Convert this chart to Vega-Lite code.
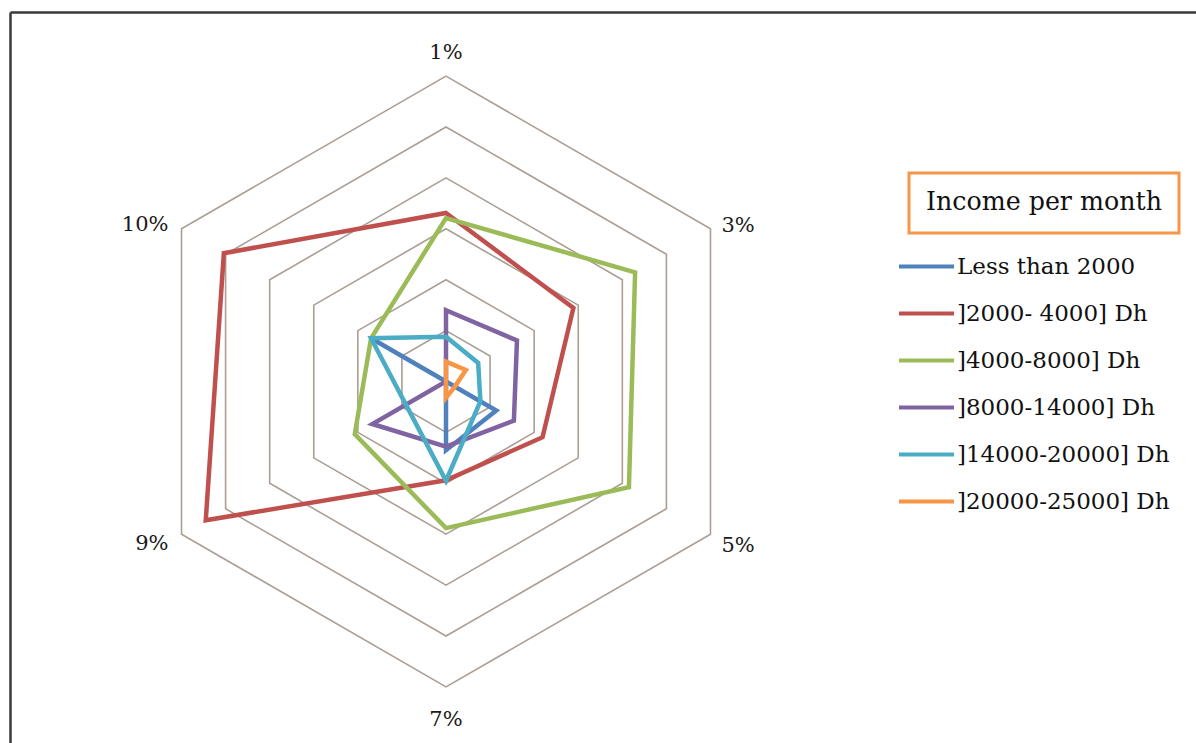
{
  "$schema": "https://vega.github.io/schema/vega-lite/v6.json",
  "width": 1186,
  "height": 731,
  "autosize": {"type": "none"},
  "padding": {"left": 10, "top": 12, "right": 0, "bottom": 0},
  "background": "white",
  "config": {"view": {"stroke": null}, "font": "DejaVu Serif", "legend": {"strokeWidth": 3}},
  "datasets": {
    "series": [
      {"series": "Less than 2000", "axis": "1%", "value": 0},
      {"series": "Less than 2000", "axis": "3%", "value": 0},
      {"series": "Less than 2000", "axis": "5%", "value": 1.14},
      {"series": "Less than 2000", "axis": "7%", "value": 1.35},
      {"series": "Less than 2000", "axis": "9%", "value": 0},
      {"series": "Less than 2000", "axis": "10%", "value": 1.7},
      {"series": "]2000- 4000] Dh", "axis": "1%", "value": 3.31},
      {"series": "]2000- 4000] Dh", "axis": "3%", "value": 2.89},
      {"series": "]2000- 4000] Dh", "axis": "5%", "value": 2.19},
      {"series": "]2000- 4000] Dh", "axis": "7%", "value": 1.94},
      {"series": "]2000- 4000] Dh", "axis": "9%", "value": 5.45},
      {"series": "]2000- 4000] Dh", "axis": "10%", "value": 5.04},
      {"series": "]4000-8000] Dh", "axis": "1%", "value": 3.21},
      {"series": "]4000-8000] Dh", "axis": "3%", "value": 4.29},
      {"series": "]4000-8000] Dh", "axis": "5%", "value": 4.15},
      {"series": "]4000-8000] Dh", "axis": "7%", "value": 2.88},
      {"series": "]4000-8000] Dh", "axis": "9%", "value": 2.07},
      {"series": "]4000-8000] Dh", "axis": "10%", "value": 1.7},
      {"series": "]8000-14000] Dh", "axis": "1%", "value": 1.4},
      {"series": "]8000-14000] Dh", "axis": "3%", "value": 1.61},
      {"series": "]8000-14000] Dh", "axis": "5%", "value": 1.54},
      {"series": "]8000-14000] Dh", "axis": "7%", "value": 1.28},
      {"series": "]8000-14000] Dh", "axis": "9%", "value": 1.67},
      {"series": "]8000-14000] Dh", "axis": "10%", "value": 0},
      {"series": "]14000-20000] Dh", "axis": "1%", "value": 0.88},
      {"series": "]14000-20000] Dh", "axis": "3%", "value": 0.73},
      {"series": "]14000-20000] Dh", "axis": "5%", "value": 0.78},
      {"series": "]14000-20000] Dh", "axis": "7%", "value": 1.95},
      {"series": "]14000-20000] Dh", "axis": "9%", "value": 0.91},
      {"series": "]14000-20000] Dh", "axis": "10%", "value": 1.7},
      {"series": "]20000-25000] Dh", "axis": "1%", "value": 0.39},
      {"series": "]20000-25000] Dh", "axis": "3%", "value": 0.45},
      {"series": "]20000-25000] Dh", "axis": "5%", "value": 0.2},
      {"series": "]20000-25000] Dh", "axis": "7%", "value": 0.32},
      {"series": "]20000-25000] Dh", "axis": "9%", "value": 0},
      {"series": "]20000-25000] Dh", "axis": "10%", "value": 0}
    ],
    "grid": [
      {"axis": "1%", "ring": [1, 2, 3, 4, 5, 6]},
      {"axis": "3%", "ring": [1, 2, 3, 4, 5, 6]},
      {"axis": "5%", "ring": [1, 2, 3, 4, 5, 6]},
      {"axis": "7%", "ring": [1, 2, 3, 4, 5, 6]},
      {"axis": "9%", "ring": [1, 2, 3, 4, 5, 6]},
      {"axis": "10%", "ring": [1, 2, 3, 4, 5, 6]}
    ],
    "labels": [
      {"axis": "1%"}, {"axis": "3%"}, {"axis": "5%"},
      {"axis": "7%"}, {"axis": "9%"}, {"axis": "10%"}
    ]
  },
  "layer": [
    {
      "data": {"name": "grid"},
      "transform": [
        {"flatten": ["ring"]},
        {"calculate": "indexof(['1%','3%','5%','7%','9%','10%'], datum.axis)", "as": "idx"},
        {"calculate": "datum.ring * sin(datum.idx * PI / 3)", "as": "px"},
        {"calculate": "datum.ring * cos(datum.idx * PI / 3)", "as": "py"}
      ],
      "mark": {"type": "line", "interpolate": "linear-closed", "color": "#ab9f95", "strokeWidth": 1.6},
      "encoding": {
        "x": {"field": "px", "type": "quantitative", "scale": {"domain": [-8.566, 14.735], "nice": false, "zero": false},
              "axis": {"orient": "top", "labels": false, "ticks": false, "grid": false, "title": null, "domainColor": "#3a3a3a", "domainWidth": 2.5}},
        "y": {"field": "py", "type": "quantitative", "scale": {"domain": [-7.102, 7.259], "nice": false, "zero": false},
              "axis": {"orient": "left", "labels": false, "ticks": false, "grid": false, "title": null, "domainColor": "#3a3a3a", "domainWidth": 2.5}},
        "detail": {"field": "ring", "type": "nominal"},
        "order": {"field": "idx", "type": "quantitative"}
      }
    },
    {
      "data": {"name": "series"},
      "transform": [
        {"calculate": "indexof(['1%','3%','5%','7%','9%','10%'], datum.axis)", "as": "idx"},
        {"calculate": "datum.value * sin(datum.idx * PI / 3)", "as": "px"},
        {"calculate": "datum.value * cos(datum.idx * PI / 3)", "as": "py"}
      ],
      "mark": {"type": "line", "interpolate": "linear-closed", "strokeWidth": 4.5, "strokeJoin": "miter"},
      "encoding": {
        "x": {"field": "px", "type": "quantitative"},
        "y": {"field": "py", "type": "quantitative"},
        "color": {
          "field": "series", "type": "nominal",
          "scale": {
            "domain": ["Less than 2000", "]2000- 4000] Dh", "]4000-8000] Dh", "]8000-14000] Dh", "]14000-20000] Dh", "]20000-25000] Dh"],
            "range": ["#4f81bd", "#c0504d", "#9bbb59", "#8064a2", "#4bacc6", "#f79646"]
          },
          "legend": {
            "title": null, "orient": "none", "legendX": 887, "legendY": 225,
            "symbolType": "stroke", "symbolSize": 3025, "symbolStrokeWidth": 4,
            "labelFont": "DejaVu Serif", "labelFontSize": 23, "labelColor": "#111111",
            "labelLimit": 400, "labelOffset": 1, "rowPadding": 5, "padding": 0
          }
        },
        "order": {"field": "idx", "type": "quantitative"}
      }
    },
    {
      "data": {"name": "series"},
      "mark": {"type": "point", "opacity": 0},
      "encoding": {
        "x": {"datum": 0, "type": "quantitative"},
        "y": {"datum": 0, "type": "quantitative"},
        "shape": {
          "field": "series", "type": "nominal",
          "legend": {
            "title": "\u2009\u2009Income per month\u2009\u2009", "values": [], "orient": "none", "legendX": 899, "legendY": 161,
            "titleFont": "DejaVu Serif", "titleFontSize": 25.3, "titleFontWeight": "normal", "titleColor": "#111111",
            "titleLimit": 400, "titlePadding": 0, "padding": 17,
            "strokeColor": "#f79646",
            "encode": {"legend": {"update": {"stroke": {"value": "#f79646"}, "strokeWidth": {"value": 3}}}}
          }
        }
      }
    },
    {
      "data": {"name": "labels"},
      "transform": [
        {"calculate": "indexof(['1%','3%','5%','7%','9%','10%'], datum.axis)", "as": "idx"},
        {"filter": "datum.idx == 0 || datum.idx == 3"},
        {"calculate": "datum.idx == 0 ? 6.46 : -6.65", "as": "ly"},
        {"calculate": "0", "as": "lx"}
      ],
      "mark": {"type": "text", "align": "center", "baseline": "middle", "font": "DejaVu Serif", "fontSize": 21, "color": "#1a1a1a"},
      "encoding": {
        "x": {"field": "lx", "type": "quantitative"},
        "y": {"field": "ly", "type": "quantitative"},
        "text": {"field": "axis"}
      }
    },
    {
      "data": {"name": "labels"},
      "transform": [
        {"calculate": "indexof(['1%','3%','5%','7%','9%','10%'], datum.axis)", "as": "idx"},
        {"filter": "datum.idx == 1 || datum.idx == 2"},
        {"calculate": "6 * sin(datum.idx * PI / 3) + 0.216", "as": "lx"},
        {"calculate": "6 * cos(datum.idx * PI / 3) + (datum.idx == 1 ? 0.05 : -0.24)", "as": "ly"}
      ],
      "mark": {"type": "text", "align": "left", "baseline": "middle", "font": "DejaVu Serif", "fontSize": 21, "color": "#1a1a1a"},
      "encoding": {
        "x": {"field": "lx", "type": "quantitative"},
        "y": {"field": "ly", "type": "quantitative"},
        "text": {"field": "axis"}
      }
    },
    {
      "data": {"name": "labels"},
      "transform": [
        {"calculate": "indexof(['1%','3%','5%','7%','9%','10%'], datum.axis)", "as": "idx"},
        {"filter": "datum.idx == 4 || datum.idx == 5"},
        {"calculate": "6 * sin(datum.idx * PI / 3) - 0.255", "as": "lx"},
        {"calculate": "6 * cos(datum.idx * PI / 3) + (datum.idx == 5 ? 0.07 : -0.19)", "as": "ly"}
      ],
      "mark": {"type": "text", "align": "right", "baseline": "middle", "font": "DejaVu Serif", "fontSize": 21, "color": "#1a1a1a"},
      "encoding": {
        "x": {"field": "lx", "type": "quantitative"},
        "y": {"field": "ly", "type": "quantitative"},
        "text": {"field": "axis"}
      }
    }
  ]
}
